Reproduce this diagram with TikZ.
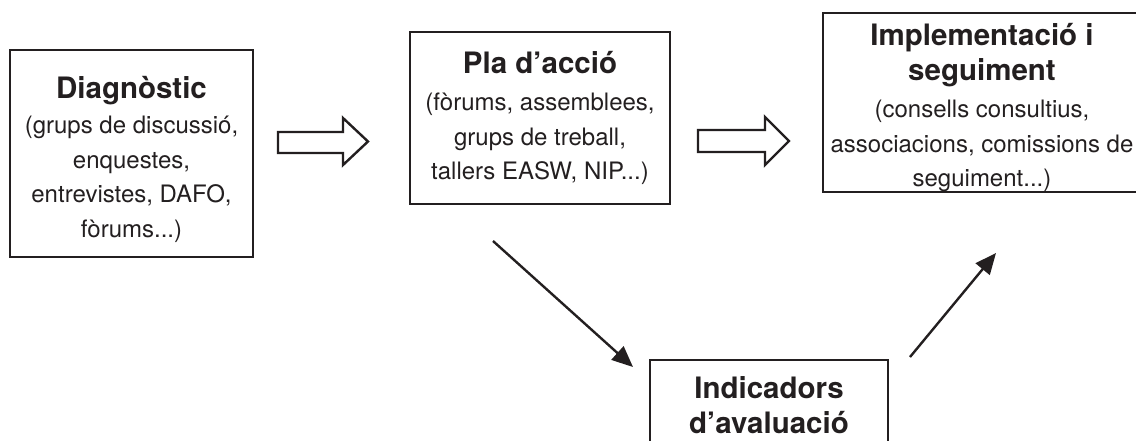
\documentclass[tikz,border=0pt]{standalone}
\usepackage{fontspec}
\setmainfont{TeX Gyre Heros}
\usetikzlibrary{arrows.meta}
\definecolor{ink}{HTML}{231F20}
\begin{document}
\begin{tikzpicture}[x=1pt,y=-1pt,
  box/.style={draw=ink,line width=2.6pt,align=center,inner sep=0pt,text=ink,
    font=\fontsize{24}{34.5}\selectfont},
  blockarrow/.style={draw=ink,line width=2.4pt,line join=miter,fill=white},
  thinarrow/.style={draw=ink,line width=2.4pt,-{Triangle[length=21pt,width=18pt]}}]
\useasboundingbox (0,0) rectangle (1136,440);
\clip (0,0) rectangle (1136,440);
\node[box,minimum width=243pt,minimum height=207pt] (diag) at (131.5,153.5)
  {{\bfseries\fontsize{29.5}{34.5}\selectfont\rule{0pt}{34pt}Diagnòstic}\\[1pt]
   (grups de discussió,\\ enquestes,\\ entrevistes, DAFO,\\ fòrums...)};
\node[box,minimum width=260pt,minimum height=172pt] (pla) at (540,118)
  {{\bfseries\fontsize{29.5}{34.5}\selectfont Pla d’acció}\\[3pt]
   (fòrums, assemblees,\\ grups de treball,\\ tallers EASW, NIP...)};
\node[box,minimum width=318pt,minimum height=179pt] (impl) at (982,102.5)
  {{\bfseries\fontsize{29.5}{34.5}\selectfont\rule{0pt}{33pt}Implementació i}\\
   {\bfseries\fontsize{29.5}{34.5}\selectfont seguiment}\\[3pt]
   (consells consultius,\\ associacions, comissions de\\ seguiment...)};
\node[box,minimum width=238pt,minimum height=90pt] (ind) at (769,405)
  {{\bfseries\fontsize{29.5}{33}\selectfont Indicadors}\\
   {\bfseries\fontsize{29.5}{33}\selectfont d’avaluació}};
% block arrows
\draw[blockarrow] (278,132) -- (343,132) -- (343,118) -- (368,141.5) -- (343,165) -- (343,153) -- (278,153) -- cycle;
\draw[blockarrow] (698,130) -- (765,130) -- (765,117) -- (789,141) -- (765,165) -- (765,152) -- (698,152) -- cycle;
% thin arrows
\coordinate (a3s) at (493,241);
\coordinate (a3e) at (633,367);
\coordinate (a4s) at (910,357);
\coordinate (a4e) at (996,253);
\draw[thinarrow] (a3s) -- (a3e);
\draw[thinarrow] (a4s) -- (a4e);
\end{tikzpicture}
\end{document}
